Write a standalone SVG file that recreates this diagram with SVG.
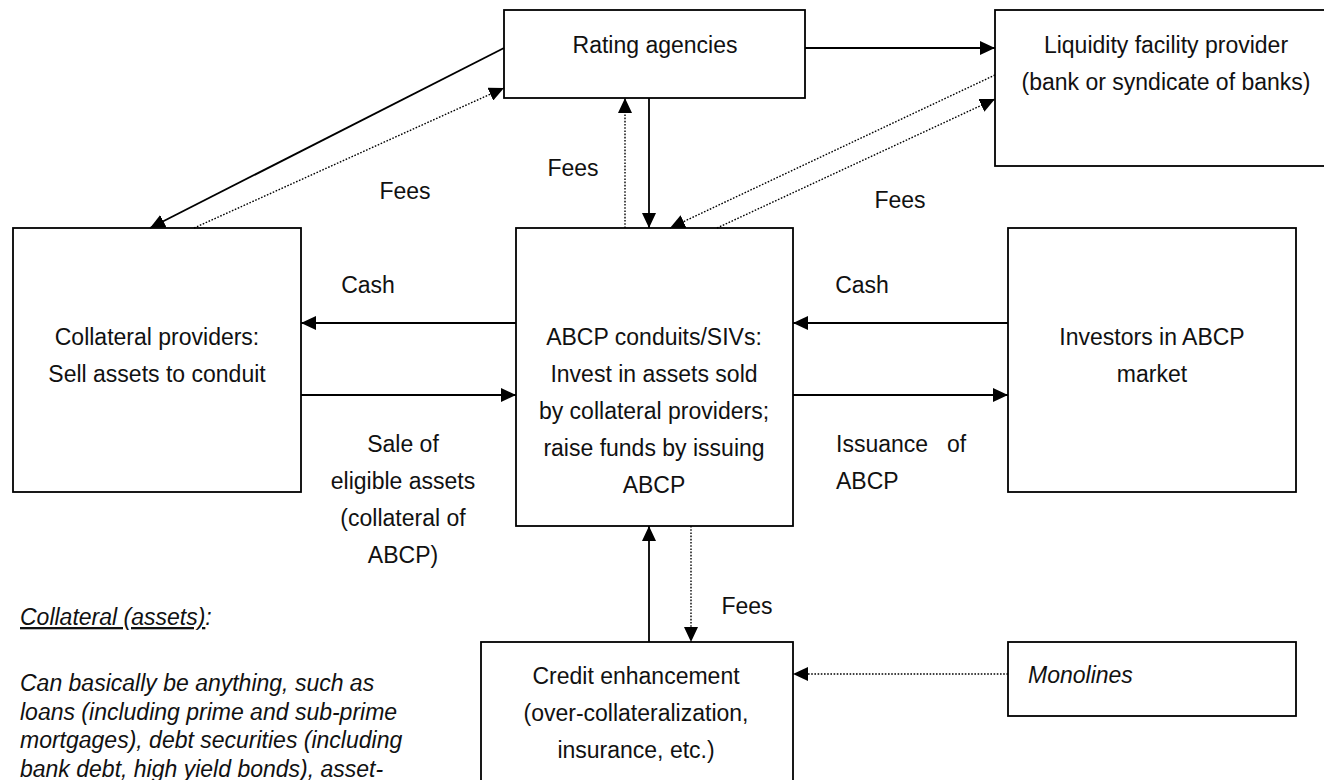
<svg xmlns="http://www.w3.org/2000/svg" width="1324" height="780" viewBox="0 0 1324 780">
<style>
.box{fill:#fff;stroke:#000;stroke-width:1.8}
.t{font-family:"Liberation Sans",Arial,sans-serif;font-size:23px;fill:#111}
.c{text-anchor:middle}
.i{font-style:italic}
.s{stroke:#000;stroke-width:1.8;fill:none;marker-end:url(#ah)}
.d{stroke:#000;stroke-width:1.4;fill:none;stroke-dasharray:1.6 1.6;marker-end:url(#ah)}
</style>
<defs>
<marker id="ah" markerUnits="userSpaceOnUse" markerWidth="15" markerHeight="14" refX="15" refY="7" orient="auto" viewBox="0 0 15 14">
<path d="M0,0 L15,7 L0,14 z" fill="#000"/>
</marker>
</defs>
<rect width="1324" height="780" fill="#fff"/>
<g id="rating">
<rect class="box" x="504" y="10" width="301" height="88"/>
<text class="t c" x="655" y="53">Rating agencies</text>
</g>
<g id="liquidity">
<rect class="box" x="995" y="10" width="342" height="156"/>
<text class="t c" x="1166" y="53">Liquidity facility provider</text>
<text class="t c" x="1166" y="90">(bank or syndicate of banks)</text>
</g>
<g id="collateral">
<rect class="box" x="13" y="228" width="288" height="264"/>
<text class="t c" x="157" y="345">Collateral providers:</text>
<text class="t c" x="157" y="382">Sell assets to conduit</text>
</g>
<g id="abcp">
<rect class="box" x="516" y="228" width="277" height="298"/>
<text class="t c" x="654" y="345">ABCP conduits/SIVs:</text>
<text class="t c" x="654" y="382">Invest in assets sold</text>
<text class="t c" x="654" y="419">by collateral providers;</text>
<text class="t c" x="654" y="456">raise funds by issuing</text>
<text class="t c" x="654" y="493">ABCP</text>
</g>
<g id="investors">
<rect class="box" x="1008" y="228" width="288" height="264"/>
<text class="t c" x="1152" y="345">Investors in ABCP</text>
<text class="t c" x="1152" y="382">market</text>
</g>
<g id="credit">
<rect class="box" x="481" y="642" width="312" height="160"/>
<text class="t c" x="636" y="684">Credit enhancement</text>
<text class="t c" x="636" y="721">(over-collateralization,</text>
<text class="t c" x="636" y="758">insurance, etc.)</text>
</g>
<g id="monolines">
<rect class="box" x="1008" y="642" width="288" height="74"/>
<text class="t i" x="1028" y="683">Monolines</text>
</g>
<g id="connectors">
<line class="s" x1="504" y1="48" x2="150" y2="228"/>
<line class="d" x1="194" y1="228" x2="504" y2="88"/>
<line class="s" x1="805" y1="48" x2="995" y2="48"/>
<line class="d" x1="995" y1="75" x2="670" y2="228"/>
<line class="d" x1="717" y1="228" x2="995" y2="99"/>
<line class="d" x1="625" y1="228" x2="625" y2="98"/>
<line class="s" x1="649" y1="98" x2="649" y2="228"/>
<line class="s" x1="516" y1="323" x2="301" y2="323"/>
<line class="s" x1="301" y1="395" x2="516" y2="395"/>
<line class="s" x1="1008" y1="323" x2="793" y2="323"/>
<line class="s" x1="793" y1="395" x2="1008" y2="395"/>
<line class="s" x1="649" y1="642" x2="649" y2="526"/>
<line class="d" x1="691" y1="526" x2="691" y2="642"/>
<line class="d" x1="1008" y1="674" x2="793" y2="674"/>
</g>
<g id="labels">
<text class="t c" x="405" y="199">Fees</text>
<text class="t c" x="573" y="176">Fees</text>
<text class="t c" x="900" y="208">Fees</text>
<text class="t c" x="368" y="293">Cash</text>
<text class="t c" x="862" y="293">Cash</text>
<text class="t c" x="403" y="452">Sale of</text>
<text class="t c" x="403" y="489">eligible assets</text>
<text class="t c" x="403" y="526">(collateral of</text>
<text class="t c" x="403" y="563">ABCP)</text>
<text class="t" x="836" y="452" word-spacing="12.6">Issuance of</text>
<text class="t" x="836" y="489">ABCP</text>
<text class="t c" x="747" y="614">Fees</text>
</g>
<g id="note">
<text class="t i" x="20" y="625"><tspan text-decoration="underline">Collateral (assets)</tspan>:</text>
<text class="t i" x="20" y="691">Can basically be anything, such as</text>
<text class="t i" x="20" y="719.5">loans (including prime and sub-prime</text>
<text class="t i" x="20" y="748">mortgages), debt securities (including</text>
<text class="t i" x="20" y="776.5">bank debt, high yield bonds), asset-</text>
</g>
</svg>
